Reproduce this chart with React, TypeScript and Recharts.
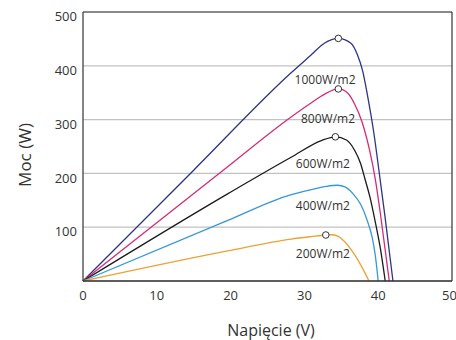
import { LineChart, Line, XAxis, YAxis, CartesianGrid, ReferenceLine, ReferenceDot } from "recharts";

const FONT = "'Open Sans', 'Noto Sans', sans-serif";

const X_TICKS = [0, 10, 20, 30, 40, 50];
const Y_TICKS = [100, 200, 300, 400, 500];

// napięcie (V) / moc (W) dla każdego natężenia promieniowania
const V_1000 = [0, 15, 28.2, 30.9, 32.7, 34.6, 36.3, 37.2, 37.9, 38.55, 39.0, 39.4, 40.2, 40.9, 42.0];
const P_1000 = [0, 206, 387, 420, 442, 451, 442, 420, 390, 345, 310, 276, 195, 122, 0];

const V_800 = [0, 19, 28.2, 30.9, 32.7, 34.6, 35.9, 36.8, 37.8, 38.8, 39.6, 40.3, 41.5];
const P_800 = [0, 206, 305, 331, 347, 357, 349, 329, 296, 245, 190, 125, 0];

const V_600 = [0, 19.6, 28.2, 32.3, 34.2, 35.7, 36.8, 37.6, 38.2, 38.9, 39.6, 40.3, 40.95];
const P_600 = [0, 162, 230, 261, 268, 262, 243, 219, 190, 155, 110, 60, 0];

const V_400 = [0, 19.7, 28.1, 31, 33, 34.5, 35.5, 36.6, 37.6, 38.5, 39.2, 39.6, 40.0];
const P_400 = [0, 113, 160, 170, 176, 178, 175, 162, 143, 113, 80, 48, 0];

const V_200 = [0, 19.6, 28.2, 30.9, 32.9, 33.8, 34.6, 35.4, 36.8, 37.9, 38.75];
const P_200 = [0, 56, 78, 82.5, 85.5, 86, 83, 74, 49, 23, 0];

const LABEL_TEXT = ["1000W/m2", "800W/m2", "600W/m2", "400W/m2", "200W/m2"];
const LABEL_V = [32.8, 33.2, 32.5, 32.5, 32.5];
const LABEL_P = [375, 301, 218, 140, 50.5];

const PEAK_V = [34.6, 34.6, 34.2, 32.9];
const PEAK_P = [451, 357, 268, 85.5];

const toPoints = (v: number[], p: number[]) => v.map((x, i) => ({ v: x, p: p[i] }));

const SERIES = [
  { name: "1000", data: toPoints(V_1000, P_1000), color: "#2d3584" },
  { name: "800", data: toPoints(V_800, P_800), color: "#d62a7b" },
  { name: "600", data: toPoints(V_600, P_600), color: "#1c1a1a" },
  { name: "400", data: toPoints(V_400, P_400), color: "#3598d4" },
  { name: "200", data: toPoints(V_200, P_200), color: "#eda135" },
];

const tickStyle = { fill: "#333", fontSize: 13, fontFamily: FONT };

// etykiety osi Y leżą nieco poniżej linii siatki
const YTick = ({ x, y, payload }: any) => (
  <text x={x} y={y} dy={9.2} textAnchor="end" fontSize={13} fontFamily={FONT} fill="#333">
    {payload.value}
  </text>
);

export default function App() {
  return (
    <div style={{ position: "absolute", left: 0, top: 0 }}>
      <LineChart width={456} height={340} margin={{ top: 12, right: 4, bottom: 0, left: 0 }}>
        <CartesianGrid vertical={false} stroke="#c2c2c2" strokeWidth={1.2} />
        <XAxis
          type="number"
          dataKey="v"
          domain={[0, 50]}
          ticks={X_TICKS}
          tick={tickStyle}
          tickLine={false}
          axisLine={{ stroke: "#333", strokeWidth: 1.5 }}
          height={59}
          tickMargin={4}
          label={{
            content: () => (
              <text x={271} y={336} textAnchor="middle" fontSize={16} fontFamily={FONT} fill="#333">
                Napięcie (V)
              </text>
            ),
          }}
        />
        <YAxis
          type="number"
          domain={[0, 500]}
          ticks={Y_TICKS}
          tick={<YTick />}
          tickLine={false}
          axisLine={{ stroke: "#333", strokeWidth: 1.2 }}
          width={83}
          tickMargin={0}
          label={{
            content: () => (
              <text
                x={30.7}
                y={155}
                transform="rotate(-90 30.7 155)"
                textAnchor="middle"
                fontSize={17}
                fontFamily={FONT}
                fill="#333"
              >
                Moc (W)
              </text>
            ),
          }}
        />
        <ReferenceLine y={500} stroke="#333" strokeWidth={1.2} />
        <ReferenceLine x={50} stroke="#333" strokeWidth={1.2} />
        {SERIES.map((s) => (
          <Line
            key={s.name}
            data={s.data}
            dataKey="p"
            type="monotone"
            stroke={s.color}
            strokeWidth={1.3}
            dot={false}
            isAnimationActive={false}
          />
        ))}
        {PEAK_V.map((v, i) => (
          <ReferenceDot key={"pk" + i} x={v} y={PEAK_P[i]} r={3.3} fill="#fff" stroke="#333" strokeWidth={1} />
        ))}
        {LABEL_TEXT.map((t, i) => (
          <ReferenceDot
            key={"lb" + i}
            x={LABEL_V[i]}
            y={LABEL_P[i]}
            shape={(p: any) => (
              <text x={p.cx} y={p.cy} dy={4.3} textAnchor="middle" fontSize={12} fontFamily={FONT} fill="#333">
                {t}
              </text>
            )}
          />
        ))}
      </LineChart>
    </div>
  );
}
